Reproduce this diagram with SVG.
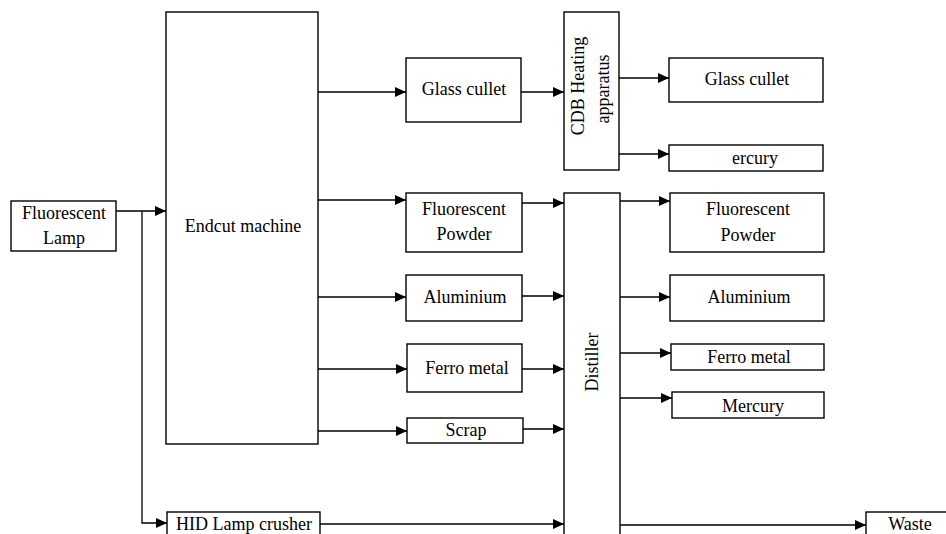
<svg xmlns="http://www.w3.org/2000/svg" width="946" height="534" viewBox="0 0 946 534">
<defs>
<marker id="ah" markerWidth="11" markerHeight="10" refX="11" refY="5" orient="auto" markerUnits="userSpaceOnUse"><path d="M0,0 L11,5 L0,10 z" fill="#000"/></marker>
<style>
.b{fill:#fff;stroke:#000;stroke-width:1.4}
.t{font-family:"Liberation Serif","Times New Roman",serif;font-size:18px;fill:#000;text-anchor:middle}
.c{fill:none;stroke:#000;stroke-width:1.3}
.a{marker-end:url(#ah)}
</style>
</defs>
<rect width="946" height="534" fill="#fff"/>
<g id="lamp"><rect class="b" x="11" y="201" width="105" height="50"/><text class="t" x="64" y="219">Fluorescent</text><text class="t" x="64" y="244">Lamp</text></g>
<g id="endcut"><rect class="b" x="166" y="12" width="152" height="432"/><text class="t" x="243" y="232">Endcut machine</text></g>
<g id="hid"><rect class="b" x="167" y="512" width="153" height="30"/><text class="t" x="244" y="530">HID Lamp crusher</text></g>
<g id="glass1"><rect class="b" x="406" y="58" width="115" height="64"/><text class="t" x="464" y="95">Glass cullet</text></g>
<g id="powder1"><rect class="b" x="406" y="193" width="116" height="59"/><text class="t" x="464" y="215">Fluorescent</text><text class="t" x="464" y="240">Powder</text></g>
<g id="alu1"><rect class="b" x="406" y="275" width="116" height="46"/><text class="t" x="465" y="303">Aluminium</text></g>
<g id="ferro1"><rect class="b" x="407" y="344" width="115" height="48"/><text class="t" x="467" y="374">Ferro metal</text></g>
<g id="scrap"><rect class="b" x="407" y="418" width="116" height="25"/><text class="t" x="466" y="436">Scrap</text></g>
<g id="cdb"><rect class="b" x="564" y="12" width="55" height="158"/><text class="t" transform="translate(584,86) rotate(-90)">CDB Heating</text><text class="t" transform="translate(609,89) rotate(-90)">apparatus</text></g>
<g id="distiller"><rect class="b" x="564" y="193" width="56" height="350"/><text class="t" transform="translate(598,362) rotate(-90)">Distiller</text></g>
<g id="glass2"><rect class="b" x="669" y="58" width="154" height="44"/><text class="t" x="747" y="85">Glass cullet</text></g>
<g id="mercury1"><rect class="b" x="669" y="145" width="154" height="26"/><text class="t" x="755" y="164">ercury</text></g>
<g id="powder2"><rect class="b" x="670" y="193" width="154" height="59"/><text class="t" x="748" y="215">Fluorescent</text><text class="t" x="748" y="241">Powder</text></g>
<g id="alu2"><rect class="b" x="670" y="275" width="154" height="46"/><text class="t" x="749" y="303">Aluminium</text></g>
<g id="ferro2"><rect class="b" x="671" y="344" width="153" height="26"/><text class="t" x="749" y="363">Ferro metal</text></g>
<g id="mercury2"><rect class="b" x="672" y="392" width="152" height="26"/><text class="t" x="753" y="412">Mercury</text></g>
<g id="waste"><rect class="b" x="866" y="512" width="90" height="30"/><text class="t" x="910" y="530">Waste</text></g>
<g id="connectors">
<path class="c a" d="M116,211 H166"/>
<path class="c a" d="M142,211 V523 H167"/>
<path class="c a" d="M318,92 H406"/>
<path class="c a" d="M318,200 H406"/>
<path class="c a" d="M318,297 H406"/>
<path class="c a" d="M318,369 H407"/>
<path class="c a" d="M318,431 H407"/>
<path class="c a" d="M521,92 H564"/>
<path class="c a" d="M522,203 H564"/>
<path class="c a" d="M522,296 H564"/>
<path class="c a" d="M522,369 H564"/>
<path class="c a" d="M523,429 H564"/>
<path class="c a" d="M320,524 H564"/>
<path class="c a" d="M619,78 H669"/>
<path class="c a" d="M619,154 H669"/>
<path class="c a" d="M620,201 H670"/>
<path class="c a" d="M620,297 H670"/>
<path class="c a" d="M620,353 H671"/>
<path class="c a" d="M620,398 H672"/>
<path class="c a" d="M620,525 H866"/>
</g>
</svg>
